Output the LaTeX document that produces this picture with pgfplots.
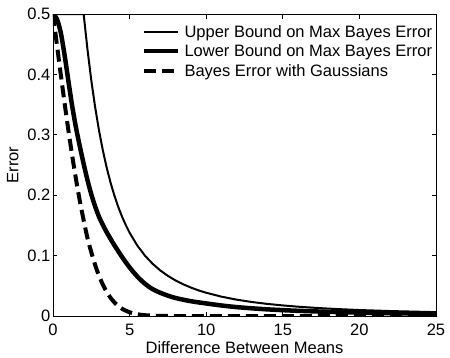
\documentclass[border=0pt]{standalone}
\usepackage{fontspec}
\setmainfont{Liberation Sans}
\usepackage{pgfplots}
\pgfplotsset{compat=1.18}

\begin{document}
\begin{tikzpicture}[font=\fontsize{16.5}{19.8}\selectfont]
\path[use as bounding box] (-53pt,-41pt) rectangle (397pt,316pt);
\begin{axis}[
  at={(0pt,0pt)}, anchor=south west,
  scale only axis,
  width=383pt, height=302pt,
  xmin=0, xmax=25, ymin=0, ymax=0.5,
  xtick={0,5,10,15,20,25},
  ytick={0,0.1,0.2,0.3,0.4,0.5},
  yticklabels={0,0.1,0.2,0.3,0.4,0.5},
  xtick pos=both, ytick pos=both,
  tick align=inside,
  major tick length=4.5pt,
  axis line style={line width=0.8pt},
  every tick/.style={black, line width=0.8pt},
  /pgf/number format/assume math mode=true,
  xticklabel style={anchor=north, inner sep=0pt, yshift=-8pt},
  yticklabel style={anchor=east, inner sep=0pt, xshift=-2.5pt},
  xlabel={Difference Between Means},
  ylabel={Error},
  xlabel style={at={(axis description cs:0.5,-0.1242)}, anchor=base, inner sep=0pt},
  ylabel style={at={(axis description cs:-0.0906,0.5)}, anchor=base, inner sep=0pt},
  legend cell align=left,
  legend style={at={(axis description cs:0.2324,0.9715)}, anchor=north west,
    draw=none, fill=none, inner sep=0pt, outer sep=0pt,
    column sep=4pt, row sep=1.3pt,
    nodes={inner sep=0pt, text height=14.7pt, text depth=3.5pt}},
  legend image code/.code={\draw[#1] (0pt,0pt) -- (34pt,0pt);},
]

% upper bound
\addplot[black, line width=2pt, line join=round] coordinates {
 (0,0.5)(2.0,0.5)(2.25,0.4414)(2.5,0.3902)(2.75,0.3459)(3.0,0.3077)
 (3.25,0.2747)(3.5,0.2462)(3.75,0.2214)(4.0,0.2)(4.25,0.1813)(4.5,0.1649)
 (4.75,0.1506)(5.0,0.1379)(5.5,0.1168)(6.0,0.1)(6.5,0.0865)(7.0,0.0755)
 (7.5,0.0664)(8.0,0.0588)(8.5,0.0525)(9.0,0.0471)(9.5,0.0424)(10,0.0385)
 (11,0.032)(12,0.027)(13,0.0231)(14,0.02)(15,0.0175)(16,0.0154)(17,0.0137)
 (18,0.0122)(19,0.011)(20,0.0099)(22,0.0082)(25,0.0064)
};

% lower bound
\addplot[black, line width=4.5pt, smooth, line join=round] coordinates {
 (0,0.5)(0.25,0.492)(0.5,0.47)(0.75,0.433)(1.0,0.39)(1.25,0.348)
 (1.5,0.312)(1.75,0.281)(2.0,0.252)(2.25,0.225)(2.5,0.2015)(2.75,0.1815)
 (3.0,0.1645)(3.25,0.151)(3.5,0.139)(3.75,0.128)(4.0,0.1175)(4.5,0.098)
 (5.0,0.0805)(5.5,0.0655)(6.0,0.0535)(6.5,0.0445)(7.0,0.0385)(7.5,0.0337)
 (8.0,0.0298)(9.0,0.0245)(10,0.0208)(11,0.0174)(12,0.0147)(13,0.0127)
 (14,0.011)(15,0.0097)(16,0.0086)(18,0.0069)(20,0.0056)(22,0.0047)(25,0.0037)
};

% Bayes error with Gaussians
\addplot[black, line width=4pt, smooth, dash pattern=on 12pt off 6pt] coordinates {
 (0,0.5)(0.25,0.4503)(0.5,0.4013)(0.75,0.3538)(1.0,0.3085)(1.25,0.266)
 (1.5,0.2266)(1.75,0.1908)(2.0,0.1587)(2.25,0.1292)(2.5,0.1056)(2.75,0.0846)
 (3.0,0.0668)(3.25,0.0521)(3.5,0.0401)(3.75,0.0304)(4.0,0.0228)(4.25,0.0168)
 (4.5,0.0122)(4.75,0.0088)(5.0,0.0062)(5.5,0.003)(6.0,0.0013)(7.0,0.0002)
 (8.0,0)(10,0)(15,0)(20,0)(25,0)
};

\legend{Upper Bound on Max Bayes Error,Lower Bound on Max Bayes Error,Bayes Error with Gaussians}
\end{axis}
\end{tikzpicture}
\end{document}
